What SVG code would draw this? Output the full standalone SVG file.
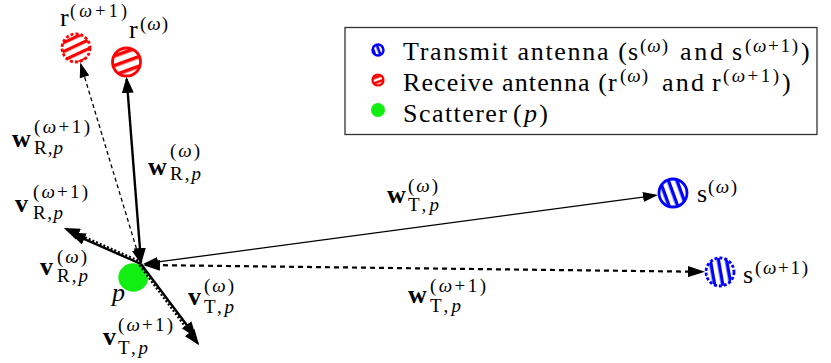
<svg xmlns="http://www.w3.org/2000/svg" width="831" height="363" viewBox="0 0 831 363" font-family="'Liberation Serif', 'DejaVu Serif', serif">
<defs>
<style>
text{fill:#000}
.m{font-size:26px}
.b{font-size:26px;font-weight:bold}
.s{font-size:19px}
.i{font-style:italic}
.ln{fill:none;stroke:#000}
.thick{stroke-width:2.4}
.thin{stroke-width:1.3}
.dash{stroke-dasharray:4 3}
.dashb{stroke-dasharray:5 4}
.dot{stroke-dasharray:2 2}
.rx{stroke:#f00;stroke-width:2.8}
.bx{stroke:#00f;stroke-width:2.8}
</style>
<pattern id="pr0" width="9" height="9" patternUnits="userSpaceOnUse" patternTransform="rotate(-20)"><rect width="9" height="3.5" fill="#f00"/></pattern>
<pattern id="pr1" width="8" height="8" patternUnits="userSpaceOnUse" patternTransform="rotate(-25)"><rect width="8" height="3.2" fill="#f00"/></pattern>
<pattern id="ps0" width="8" height="8" patternUnits="userSpaceOnUse" patternTransform="rotate(70)"><rect width="8" height="3.4" fill="#00f"/></pattern>
<pattern id="ps1" width="8" height="8" patternUnits="userSpaceOnUse" patternTransform="rotate(80)"><rect width="8" height="3.4" fill="#00f"/></pattern>
<pattern id="lgb" width="5" height="5" patternUnits="userSpaceOnUse" patternTransform="rotate(70)"><rect width="5" height="2.6" fill="#00f"/></pattern>
<pattern id="lgr" width="5" height="5" patternUnits="userSpaceOnUse" patternTransform="rotate(-20)"><rect width="5" height="2.6" fill="#f00"/></pattern>
<marker id="ha" viewBox="0 0 16 12" refX="14" refY="6" markerWidth="16" markerHeight="12" markerUnits="userSpaceOnUse" orient="auto-start-reverse"><path d="M0,0 L16,6 L0,12 z" fill="#000"/></marker>
<marker id="hb" viewBox="0 0 15 10" refX="13" refY="5" markerWidth="15" markerHeight="10" markerUnits="userSpaceOnUse" orient="auto-start-reverse"><path d="M0,0 L15,5 L0,10 z" fill="#000"/></marker>
<marker id="hc" viewBox="0 0 17 11" refX="15" refY="5.5" markerWidth="17" markerHeight="11" markerUnits="userSpaceOnUse" orient="auto-start-reverse"><path d="M0,0 L17,5.5 L0,11 z" fill="#000"/></marker>
</defs>
<rect width="831" height="363" fill="#fff"/>

<g id="scatterer-p">
<ellipse cx="133.3" cy="277.5" rx="15" ry="14.2" fill="#11ee11"/>
<text class="m i" x="112" y="301">p</text>
</g>

<g id="antenna-r-omega">
<circle cx="126.5" cy="62" r="14" fill="url(#pr0)" class="rx"/>
<text class="m" x="129" y="38">r</text>
<text class="s" x="140" y="30" textLength="28">(<tspan class="i">ω</tspan>)</text>
</g>
<g id="antenna-r-omega1">
<circle cx="76" cy="48" r="14" fill="url(#pr1)" class="rx" stroke-dasharray="3 2"/>
<text class="m" x="60" y="26">r</text>
<text x="70" y="17" font-size="18" textLength="57">(<tspan class="i">ω</tspan>+1)</text>
</g>
<g id="antenna-s-omega">
<circle cx="673" cy="193" r="14" fill="url(#ps0)" class="bx"/>
<text class="m" x="697" y="202">s</text>
<text class="s" x="708" y="193" textLength="29">(<tspan class="i">ω</tspan>)</text>
</g>
<g id="antenna-s-omega1">
<circle cx="720" cy="272" r="14" fill="url(#ps1)" class="bx" stroke-dasharray="3 2"/>
<text class="m" x="743" y="283">s</text>
<text class="s" x="755" y="274" textLength="53">(<tspan class="i">ω</tspan>+1)</text>
</g>

<g id="connectors">
<line class="ln thick" x1="141" y1="262" x2="126.7" y2="79" marker-start="url(#ha)" marker-end="url(#ha)"/>
<line class="ln thin dash" x1="140.5" y1="262" x2="80.8" y2="64.5" marker-start="url(#hb)" marker-end="url(#hb)"/>
<line class="ln thin" x1="145" y1="263.7" x2="656" y2="195.3" marker-start="url(#hb)" marker-end="url(#hb)"/>
<line class="ln dashb" stroke-width="2.2" x1="145" y1="265" x2="703" y2="271.8" marker-start="url(#hc)" marker-end="url(#hc)"/>
<line class="ln thick" x1="141" y1="264" x2="71.5" y2="233.4" marker-end="url(#ha)"/>
<line class="ln dot" stroke-width="2.2" x1="141.8" y1="262.2" x2="65.7" y2="228.7" marker-end="url(#ha)"/>
<line class="ln thick" x1="141" y1="264" x2="195" y2="336" marker-end="url(#ha)"/>
<line class="ln dot" stroke-width="2.2" x1="139.4" y1="265.2" x2="198" y2="343.7" marker-end="url(#ha)"/>
</g>

<g id="connector-labels">
<text class="b" x="12" y="147">w</text>
<text class="s" x="34" y="133" textLength="56">(<tspan class="i">ω</tspan>+1)</text>
<text class="s" x="34" y="154" textLength="29">R,<tspan class="i">p</tspan></text>
<text class="b" x="148" y="175">w</text>
<text class="s" x="170" y="157" textLength="30">(<tspan class="i">ω</tspan>)</text>
<text class="s" x="170" y="180" textLength="31">R,<tspan class="i">p</tspan></text>
<text class="b" x="15" y="212">v</text>
<text class="s" x="33" y="198" textLength="55">(<tspan class="i">ω</tspan>+1)</text>
<text class="s" x="33" y="219" textLength="30">R,<tspan class="i">p</tspan></text>
<text class="b" x="40" y="275">v</text>
<text class="s" x="57" y="263" textLength="30">(<tspan class="i">ω</tspan>)</text>
<text class="s" x="57" y="282" textLength="31">R,<tspan class="i">p</tspan></text>
<text class="b" x="188" y="305">v</text>
<text class="s" x="204" y="292" textLength="30">(<tspan class="i">ω</tspan>)</text>
<text class="s" x="204" y="313" textLength="30">T,<tspan class="i">p</tspan></text>
<text class="b" x="103" y="345">v</text>
<text class="s" x="118" y="331" textLength="55">(<tspan class="i">ω</tspan>+1)</text>
<text class="s" x="118" y="354" textLength="30">T,<tspan class="i">p</tspan></text>
<text class="b" x="387" y="203">w</text>
<text class="s" x="408" y="192" textLength="30">(<tspan class="i">ω</tspan>)</text>
<text class="s" x="408" y="211" textLength="31">T,<tspan class="i">p</tspan></text>
<text class="b" x="408" y="303">w</text>
<text class="s" x="430" y="292" textLength="56">(<tspan class="i">ω</tspan>+1)</text>
<text class="s" x="430" y="312" textLength="31">T,<tspan class="i">p</tspan></text>
</g>

<g id="legend">
<rect x="345" y="27.5" width="472" height="107" fill="#fff" stroke="#333" stroke-width="1.3"/>
<circle cx="378" cy="50" r="5.5" fill="url(#lgb)" stroke="#00f" stroke-width="2.4"/>
<text class="m" x="403" y="60" textLength="224">Transmit antenna (</text>
<text class="m" x="628" y="60">s</text>
<text class="s" x="640" y="52" textLength="28">(<tspan class="i">ω</tspan>)</text>
<text class="m" x="680" y="60" textLength="43">and</text>
<text class="m" x="732" y="60">s</text>
<text class="s" x="745" y="52" textLength="53">(<tspan class="i">ω</tspan>+1)</text>
<text class="m" x="801" y="60">)</text>
<circle cx="378" cy="80" r="5.5" fill="url(#lgr)" stroke="#f00" stroke-width="2.2"/>
<text class="m" x="403" y="91" textLength="204">Receive antenna (</text>
<text class="m" x="608" y="91">r</text>
<text class="s" x="620" y="82" textLength="28">(<tspan class="i">ω</tspan>)</text>
<text class="m" x="662" y="91" textLength="42">and</text>
<text class="m" x="712" y="91">r</text>
<text class="s" x="723" y="82" textLength="56">(<tspan class="i">ω</tspan>+1)</text>
<text class="m" x="782" y="91">)</text>
<circle cx="378" cy="110" r="7" fill="#11ee11"/>
<text class="m" x="403" y="122" textLength="104">Scatterer</text>
<text class="m" x="513" y="122" textLength="35">(<tspan class="i">p</tspan>)</text>
</g>
</svg>
